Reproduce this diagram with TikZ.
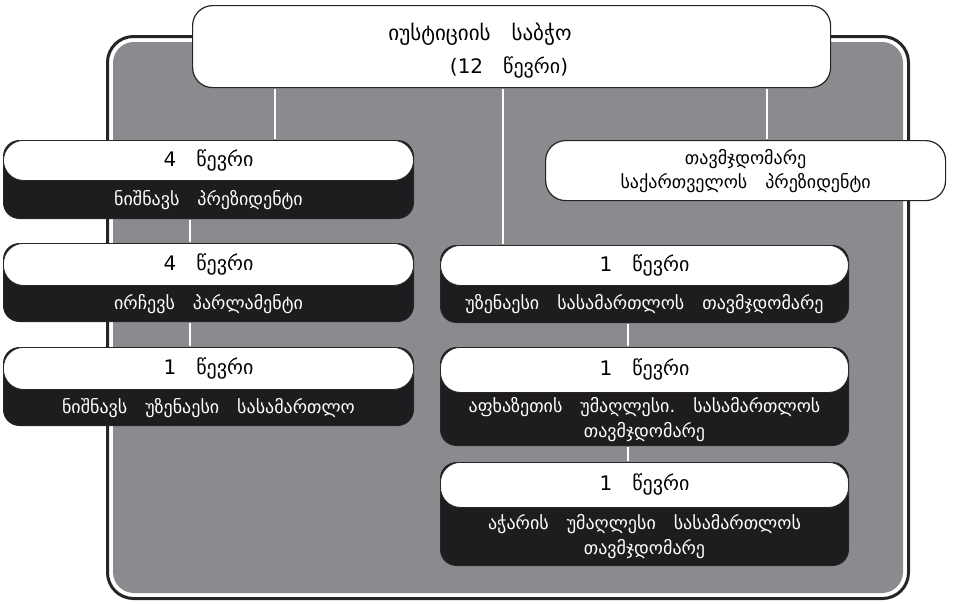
\documentclass[tikz,border=0pt]{standalone}
\usepackage{fontspec}
\setmainfont{DejaVu Sans}
\usetikzlibrary{positioning, calc}
\definecolor{panelgray}{RGB}{138,139,143}
\definecolor{boxdark}{RGB}{30,28,30}
\definecolor{rimdark}{RGB}{40,36,36}

\begin{document}
\begin{tikzpicture}[x=1pt, y=-1pt]
\tikzset{
tierbox/.style={draw=rimdark, line width=1pt, fill=boxdark, rounded corners=16pt, anchor=north west, inner sep=0pt},
tiercap/.style={draw=rimdark, line width=0.8pt, fill=white, rounded corners=20pt, anchor=north, inner sep=0pt, font=\fontsize{20}{22}\selectfont},
tiertext/.style={text=white, align=center, font=\fontsize{18}{25}\selectfont},
capbox/.style={draw=rimdark, line width=1.2pt, fill=white, rounded corners=20pt, anchor=north west, inner sep=0pt},
link/.style={draw=white, line width=2.5pt, shorten <=0.6pt, shorten >=0.6pt}
}

	% page and panel
	\useasboundingbox (0,0) rectangle (961,603);
	\draw[line width=3pt, draw=rimdark, fill=white, rounded corners=26pt] (107.5,36.5) rectangle (908.5,598.5);
	\fill[panelgray, rounded corners=21pt] (113,42) rectangle (903,593);

	% council
	\node[capbox, minimum width=638pt, minimum height=82pt] (title) at (192,5) {};
	\node[font=\fontsize{21}{24}\selectfont] (titletext) at (480,34) {იუსტიციის\quad საბჭო};
	\node[font=\fontsize{20}{24}\selectfont] (titlesub) at (509,67) {(12\quad წევრი)};

	% left column
	\node[tierbox, minimum width=410pt, minimum height=78pt] (pres) at (3,140) {};
	\node[tiercap, minimum width=410pt, minimum height=40pt] (prescap) at (pres.north) {4\quad წევრი};
	\node[tiertext] at ($(prescap.south)!0.5!(pres.south)$) {ნიშნავს\quad პრეზიდენტი};

	\node[tierbox, minimum width=410pt, minimum height=78pt] (parl) at (3,243) {};
	\node[tiercap, minimum width=410pt, minimum height=42pt] (parlcap) at (parl.north) {4\quad წევრი};
	\node[tiertext] at ($(parlcap.south)!0.5!(parl.south)$) {ირჩევს\quad პარლამენტი};

	\node[tierbox, minimum width=410pt, minimum height=78pt] (court) at (3,347) {};
	\node[tiercap, minimum width=410pt, minimum height=42pt] (courtcap) at (court.north) {1\quad წევრი};
	\node[tiertext] at ($(courtcap.south)!0.5!(court.south)$) {ნიშნავს\quad უზენაესი\quad სასამართლო};

	% right column
	\node[capbox, minimum width=400pt, minimum height=60pt, align=center, font=\fontsize{18}{24}\selectfont] (chair) at (545,140) {თავმჯდომარე\\საქართველოს\quad პრეზიდენტი};

	\node[tierbox, minimum width=408pt, minimum height=77pt] (supr) at (440,245) {};
	\node[tiercap, minimum width=408pt, minimum height=40pt] (suprcap) at (supr.north) {1\quad წევრი};
	\node[tiertext] at ($(suprcap.south)!0.5!(supr.south)$) {უზენაესი\quad სასამართლოს\quad თავმჯდომარე};

	\node[tierbox, minimum width=408pt, minimum height=98pt] (abkh) at (440,347) {};
	\node[tiercap, minimum width=408pt, minimum height=45pt] (abkhcap) at (abkh.north) {1\quad წევრი};
	\node[tiertext] at ($(abkhcap.south)!0.5!(abkh.south)$) {აფხაზეთის\quad უმაღლესი.\quad სასამართლოს\\თავმჯდომარე};

	\node[tierbox, minimum width=408pt, minimum height=103pt] (adj) at (440,462) {};
	\node[tiercap, minimum width=408pt, minimum height=45pt] (adjcap) at (adj.north) {1\quad წევრი};
	\node[tiertext] at ($(adjcap.south)!0.5!(adj.south)$) {აჭარის\quad უმაღლესი\quad სასამართლოს\\თავმჯდომარე};

	% links
	\coordinate (xa) at (275,0);
	\coordinate (xb) at (503,0);
	\coordinate (xc) at (767,0);
	\coordinate (xd) at (190,0);
	\coordinate (xe) at (628,0);
	\draw[link] (title.south -| xa) -- (pres.north -| xa);
	\draw[link] (title.south -| xb) -- (supr.north -| xb);
	\draw[link] (title.south -| xc) -- (chair.north -| xc);
	\draw[link] (pres.south -| xd) -- (parl.north -| xd);
	\draw[link] (parl.south -| xd) -- (court.north -| xd);
	\draw[link] (supr.south -| xe) -- (abkh.north -| xe);
	\draw[link] (abkh.south -| xe) -- (adj.north -| xe);

\end{tikzpicture}
\end{document}
